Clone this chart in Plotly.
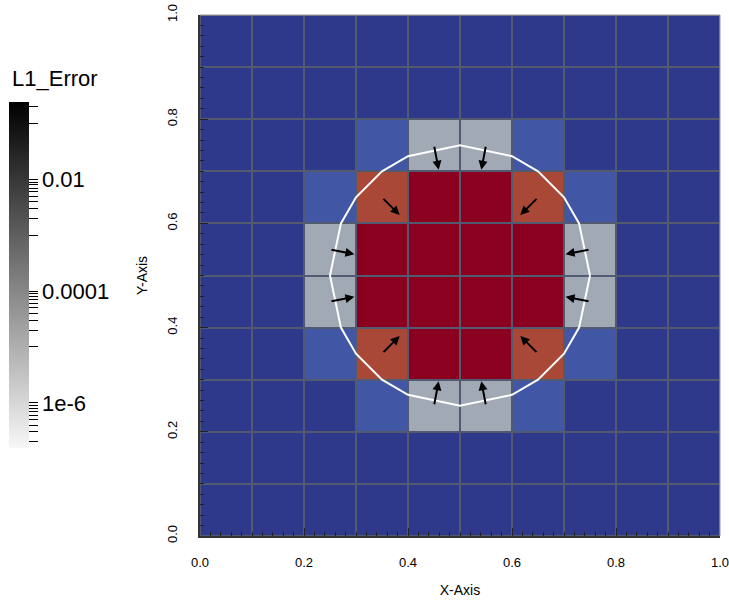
import math
import plotly.graph_objects as go

# ---- data ----
cell_x = [0.05, 0.15, 0.25, 0.35, 0.45, 0.55, 0.65, 0.75, 0.85, 0.95]
cell_y = [0.05, 0.15, 0.25, 0.35, 0.45, 0.55, 0.65, 0.75, 0.85, 0.95]
# cell classes (row 0 = bottom): 0 dark blue, 1 blue, 2 gray, 3 orange, 4 red
cell_class = [
    [0, 0, 0, 0, 0, 0, 0, 0, 0, 0],
    [0, 0, 0, 0, 0, 0, 0, 0, 0, 0],
    [0, 0, 0, 1, 2, 2, 1, 0, 0, 0],
    [0, 0, 1, 3, 4, 4, 3, 1, 0, 0],
    [0, 0, 2, 4, 4, 4, 4, 2, 0, 0],
    [0, 0, 2, 4, 4, 4, 4, 2, 0, 0],
    [0, 0, 1, 3, 4, 4, 3, 1, 0, 0],
    [0, 0, 0, 1, 2, 2, 1, 0, 0, 0],
    [0, 0, 0, 0, 0, 0, 0, 0, 0, 0],
    [0, 0, 0, 0, 0, 0, 0, 0, 0, 0],
]
class_colors = ["rgb(46,57,140)", "rgb(65,86,165)", "rgb(161,170,180)",
                "rgb(170,72,56)", "rgb(139,0,30)"]

# interface polygon
iface_x = [0.75, 0.729, 0.70, 0.65, 0.60, 0.50, 0.40, 0.35, 0.30, 0.271, 0.25,
           0.271, 0.30, 0.35, 0.40, 0.50, 0.60, 0.65, 0.70, 0.729, 0.75]
iface_y = [0.50, 0.60, 0.65, 0.70, 0.729, 0.75, 0.729, 0.70, 0.65, 0.60, 0.50,
           0.40, 0.35, 0.30, 0.271, 0.25, 0.271, 0.30, 0.35, 0.40, 0.50]

# arrows: tail position and vector
arrow_x = [0.45, 0.55, 0.45, 0.55, 0.25, 0.25, 0.75, 0.75, 0.35, 0.65, 0.35, 0.65]
arrow_y = [0.75, 0.75, 0.25, 0.25, 0.55, 0.45, 0.55, 0.45, 0.65, 0.65, 0.35, 0.35]
arrow_u = [0.009, -0.009, 0.009, -0.009, 0.047, 0.047, -0.047, -0.047,
           0.034, -0.034, 0.034, -0.034]
arrow_v = [-0.047, -0.047, 0.047, 0.047, -0.009, 0.009, -0.009, 0.009,
           -0.034, -0.034, 0.034, 0.034]

# colorbar (log10 of L1_Error)
err_log_min = -6.81
err_log_max = -0.61
major_err = [1e-2, 1e-4, 1e-6]
major_text = ["0.01", "0.0001", "1e-6"]

tickvals, ticktext = [], []
for v, t in zip(major_err, major_text):
    tickvals.append(math.log10(v)); ticktext.append(t)
for base in [1e-1, 1e-3, 1e-5, 1e-7]:
    for k in range(1, 10):
        lv = math.log10(k * base)
        if err_log_min <= lv <= err_log_max and all(abs(lv - m) > 1e-9 for m in tickvals):
            tickvals.append(lv); ticktext.append("")

FONT = "Liberation Sans, Arial, sans-serif"
GRID = "rgb(82,90,114)"

fig = go.Figure()
n = len(class_colors) - 1
fig.add_trace(go.Heatmap(
    x=cell_x, y=cell_y, z=cell_class, zmin=0, zmax=n,
    colorscale=[[i / n, c] for i, c in enumerate(class_colors)],
    showscale=False, xgap=2, ygap=2, hoverinfo="skip"))

fig.add_trace(go.Scatter(x=iface_x, y=iface_y, mode="lines",
                         line=dict(color="white", width=2), hoverinfo="skip",
                         showlegend=False))

fig.add_trace(go.Scatter(
    x=[None], y=[None], mode="markers", showlegend=False, hoverinfo="skip",
    marker=dict(color=[err_log_min], cmin=err_log_min, cmax=err_log_max,
                colorscale=[[0, "#f7f7f7"], [1, "#000000"]], showscale=True,
                colorbar=dict(
                    x=(9 - 200) / 520, xanchor="left", xref="paper",
                    y=(536 - 448) / 521, yanchor="bottom",
                    len=346, lenmode="pixels", thickness=20, thicknessmode="pixels",
                    xpad=0, ypad=0, outlinewidth=0,
                    tickmode="array", tickvals=tickvals, ticktext=ticktext,
                    ticks="outside", ticklen=9, tickwidth=1, tickcolor="black",
                    tickfont=dict(family=FONT, size=22, color="black")))))

fig.add_annotation(text="L1_Error", xref="paper", yref="paper",
                   x=(10 - 200) / 520, y=(536 - 78) / 521, xanchor="left",
                   yanchor="middle", showarrow=False,
                   font=dict(family=FONT, size=22, color="black"))

for x0, y0, u, v in zip(arrow_x, arrow_y, arrow_u, arrow_v):
    fig.add_annotation(x=x0 + u, y=y0 + v, ax=x0, ay=y0, xref="x", yref="y",
                       axref="x", ayref="y", showarrow=True, arrowhead=2,
                       arrowsize=0.9, arrowwidth=2, arrowcolor="black",
                       standoff=0, startstandoff=0, text="")

axis_common = dict(range=[0, 1], showgrid=False, zeroline=False,
                   showline=True, linecolor="#333333", linewidth=1.5,
                   ticks="inside", ticklen=8, tickcolor="#222222",
                   tickmode="array", tickvals=[0, 0.2, 0.4, 0.6, 0.8, 1.0],
                   ticktext=["0.0", "0.2", "0.4", "0.6", "0.8", "1.0"],
                   minor=dict(dtick=0.02, ticks="inside", ticklen=4,
                              tickcolor="#222222", showgrid=False),
                   ticklabeloverflow="allow",
                   tickfont=dict(family=FONT, size=13, color="black"))

fig.update_xaxes(**axis_common, ticklabelstandoff=14,
                 title=dict(text="X-Axis", standoff=16,
                            font=dict(family=FONT, size=14, color="black")))
fig.update_yaxes(**axis_common, tickangle=-90, ticklabelstandoff=16,
                 title=dict(text="Y-Axis", standoff=14,
                            font=dict(family=FONT, size=14, color="black")))

fig.add_shape(type="line", xref="paper", yref="paper", x0=0, x1=1, y0=1, y1=1,
              line=dict(color="#9a9a9a", width=1))
fig.add_shape(type="line", xref="paper", yref="paper", x0=1, x1=1, y0=0, y1=1,
              line=dict(color="#9a9a9a", width=1))

fig.update_layout(width=729, height=603,
                  margin=dict(l=200, r=9, t=15, b=67, autoexpand=False),
                  plot_bgcolor=GRID, paper_bgcolor="white", showlegend=False)

fig.write_html("out.html", config={"displayModeBar": False})
with open("out.html", encoding="utf-8") as f:
    html = f.read()
html = html.replace("<head>", "<head><style>html,body{margin:0;padding:0;overflow:hidden;}</style>", 1)
with open("out.html", "w", encoding="utf-8") as f:
    f.write(html)
